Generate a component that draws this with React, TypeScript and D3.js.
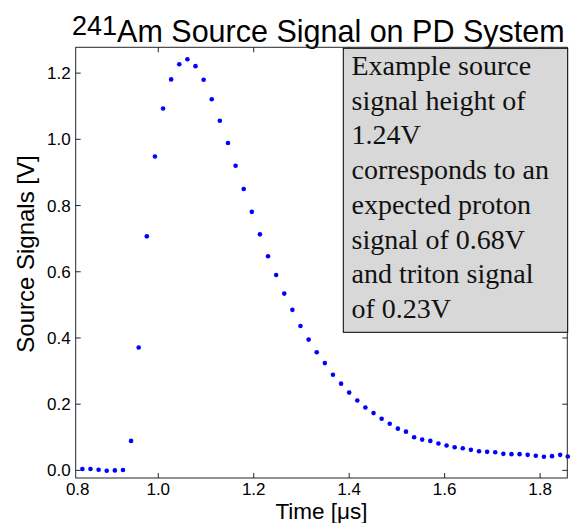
import React from 'react';
import * as d3 from 'd3';

// sample times [us] and source signal [V]
const times = [
  0.841, 0.858, 0.875, 0.892, 0.909, 0.926, 0.943, 0.959, 0.976, 0.993,
  1.010, 1.027, 1.044, 1.061, 1.078, 1.095, 1.112, 1.129, 1.146, 1.162,
  1.179, 1.196, 1.213, 1.230, 1.247, 1.264, 1.281, 1.298, 1.315, 1.332,
  1.349, 1.366, 1.383, 1.400, 1.417, 1.434, 1.451, 1.468, 1.485, 1.502,
  1.519, 1.536, 1.553, 1.570, 1.587, 1.604, 1.621, 1.638, 1.655, 1.672,
  1.689, 1.706, 1.723, 1.740, 1.757, 1.774, 1.791, 1.808, 1.825, 1.842,
  1.858,
];
const signals = [
  0.004, 0.004, 0.002, -0.001, 0.000, 0.001, 0.089, 0.371, 0.707, 0.948,
  1.093, 1.181, 1.227, 1.242, 1.221, 1.180, 1.121, 1.056, 0.989, 0.920,
  0.850, 0.781, 0.713, 0.647, 0.590, 0.534, 0.485, 0.436, 0.395, 0.357,
  0.324, 0.289, 0.262, 0.235, 0.211, 0.190, 0.173, 0.156, 0.141, 0.126,
  0.117, 0.100, 0.093, 0.089, 0.081, 0.075, 0.070, 0.067, 0.062, 0.058,
  0.056, 0.055, 0.050, 0.049, 0.049, 0.047, 0.044, 0.041, 0.043, 0.047,
  0.042,
];

const xDomain = [0.827, 1.857];
const yDomain = [-0.023, 1.278];
const xTickValues = [0.827, 1.0, 1.2, 1.4, 1.6, 1.8];
const xTickLabels = ['0.8', '1.0', '1.2', '1.4', '1.6', '1.8'];
const yTickValues = [0, 0.2, 0.4, 0.6, 0.8, 1.0, 1.2];
const noteLines = [
  'Example source',
  'signal height of',
  '1.24V',
  'corresponds to an',
  'expected proton',
  'signal of 0.68V',
  'and triton signal',
  'of 0.23V',
];

const W = 574;
const H = 523;
const m = { left: 75.7, right: 6.7, top: 47.3, bottom: 45 };
const axisColor = '#262626';
const sans = '"Liberation Sans", Arial, Helvetica, sans-serif';

export default function App() {
  const x = d3.scaleLinear().domain(xDomain).range([m.left, W - m.right]);
  const y = d3.scaleLinear().domain(yDomain).range([H - m.bottom, m.top]);
  const [x0, x1] = x.range();
  const [y0, y1] = y.range();
  const tick = 5;
  const data = times.map((t, i) => ({ t, v: signals[i] }));

  return (
    <svg width={W} height={H} style={{ position: 'absolute', left: 0, top: 0, background: '#fff' }}>
      {/* title */}
      <text x={72} y={42} fontFamily={sans} fontSize={30.5} fill="#000">
        <tspan fontSize={27} dy={-7}>241</tspan>
        <tspan dy={7}>Am Source Signal on PD System</tspan>
      </text>

      {/* points */}
      <g fill="#0000ff">
        {data.map((d, i) => (
          <circle key={i} cx={x(d.t)} cy={y(d.v)} r={2.3} />
        ))}
      </g>

      {/* box + ticks */}
      <g stroke={axisColor} strokeWidth={1} fill="none">
        <rect x={x0} y={y1} width={x1 - x0} height={y0 - y1} />
        {xTickValues.slice(1).map((v) => (
          <g key={v}>
            <line x1={x(v)} x2={x(v)} y1={y0} y2={y0 - tick} />
            <line x1={x(v)} x2={x(v)} y1={y1} y2={y1 + tick} />
          </g>
        ))}
        {yTickValues.map((v) => (
          <g key={v}>
            <line x1={x0} x2={x0 + tick} y1={y(v)} y2={y(v)} />
            <line x1={x1} x2={x1 - tick} y1={y(v)} y2={y(v)} />
          </g>
        ))}
      </g>

      {/* tick labels */}
      <g fontFamily={sans} fontSize={17} fill="#000">
        {xTickValues.map((v, i) => (
          <text key={v} x={x(v) + (i === 0 ? 2 : 0)} y={y0 + 17} textAnchor="middle">
            {xTickLabels[i]}
          </text>
        ))}
        {yTickValues.map((v) => (
          <text key={v} x={x0 - 5} y={y(v) + 6} textAnchor="end">
            {d3.format('.1f')(v)}
          </text>
        ))}
      </g>

      {/* axis titles */}
      <text x={(x0 + x1) / 2} y={519} textAnchor="middle" fontFamily={sans} fontSize={22.5} fill="#000">
        Time [μs]
      </text>
      <text
        transform={`translate(33.5, 254) rotate(-90)`}
        textAnchor="middle"
        fontFamily={sans}
        fontSize={24}
        fill="#000"
      >
        Source Signals [V]
      </text>

      {/* annotation box */}
      <rect x={343.3} y={48.3} width={224.4} height={284} fill="#d8d8d8" stroke="#000" strokeWidth={1} />
      <g fontFamily='"Liberation Serif", "Times New Roman", serif' fontSize={28} fill="#111">
        {noteLines.map((s, i) => (
          <text key={i} x={351.5} y={75 + i * 34.7}>
            {s}
          </text>
        ))}
      </g>
    </svg>
  );
}
